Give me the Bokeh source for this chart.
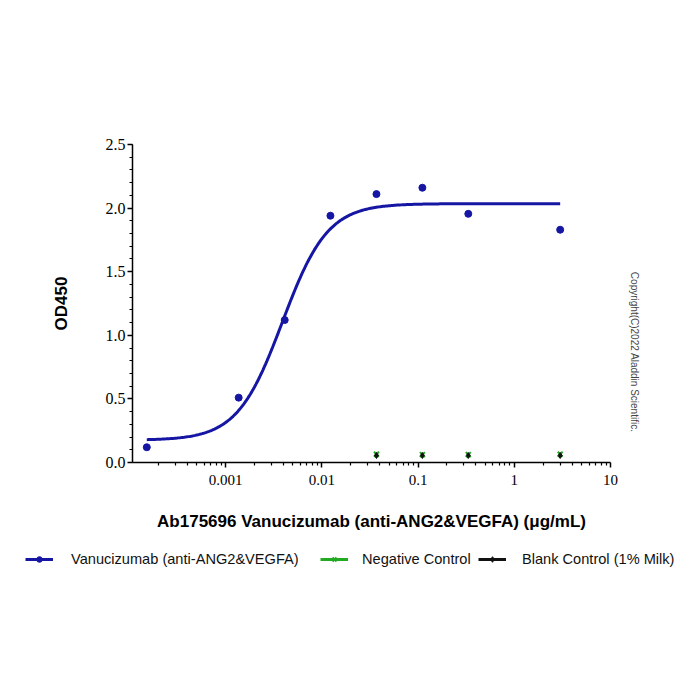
import numpy as np
from bokeh.plotting import figure
from bokeh.layouts import column
from bokeh.models import Range1d, FixedTicker, Legend, LegendItem, Title
from bokeh.embed import file_html
from bokeh.resources import INLINE

# ---- data ----
conc = [0.000152, 0.00137, 0.00412, 0.0123, 0.037, 0.111, 0.333, 3.0]
od_vanu = [0.12, 0.51, 1.12, 1.94, 2.11, 2.16, 1.955, 1.83]

ctrl_conc = [0.037, 0.111, 0.333, 3.0]
od_negative = [0.065, 0.062, 0.062, 0.065]
od_blank = [0.055, 0.055, 0.055, 0.055]

# 4-parameter logistic fit (as drawn in the reference)
fit_bottom = 0.175
fit_top = 2.035
fit_ec50 = 0.0039
fit_hill = 1.85

major_ticks = [0.001, 0.01, 0.1, 1, 10]
major_labels = ["0.001", "0.01", "0.1", "1", "10"]

series_names = ["Vanucizumab (anti-ANG2&VEGFA)", "Negative Control", "Blank Control (1% Milk)"]

BLUE = "#1616a4"
GREEN = "#22aa22"
BLACK = "#111111"

p = figure(width=700, height=540, x_axis_type="log",
           x_range=Range1d(1.08e-4, 10), y_range=Range1d(0, 2.5),
           output_backend="svg", toolbar_location=None,
           min_border_left=132, min_border_right=90,
           min_border_top=144, min_border_bottom=78)
p.frame_align = False
p.outline_line_color = None
p.xgrid.visible = False
p.ygrid.visible = False
p.background_fill_color = "white"
p.border_fill_color = "white"

# fitted curve
xs = np.logspace(np.log10(conc[0]), np.log10(conc[-1]), 300)
ys = fit_bottom + (fit_top - fit_bottom) / (1 + (fit_ec50 / xs) ** fit_hill)
p.line(xs, ys, line_color=BLUE, line_width=3)
p.scatter(conc, od_vanu, marker="circle", size=7, fill_color=BLUE, line_color=BLUE)
p.scatter(ctrl_conc, od_negative, marker="x", size=7, line_color=GREEN, line_width=2)
p.scatter(ctrl_conc, od_blank, marker="diamond", size=6, fill_color=BLACK, line_color=BLACK)

# axes
xa = p.xaxis[0]
xa.ticker = FixedTicker(ticks=major_ticks,
                        minor_ticks=[k * 10.0 ** e for e in range(-4, 1) for k in range(2, 10)])
xa.major_label_overrides = {t: l for t, l in zip(major_ticks, major_labels)}
xa.axis_label = "Ab175696 Vanucizumab (anti-ANG2&VEGFA) (μg/mL)"
ya = p.yaxis[0]
ya.ticker = FixedTicker(ticks=[0, 0.5, 1.0, 1.5, 2.0, 2.5],
                        minor_ticks=[i / 10 for i in range(0, 26)])
ya.major_label_overrides = {0: "0.0", 0.5: "0.5", 1.0: "1.0", 1.5: "1.5", 2.0: "2.0", 2.5: "2.5"}
ya.axis_label = "OD450"

for ax in (xa, ya):
    ax.axis_line_color = "black"
    ax.axis_line_width = 1.5
    ax.major_tick_line_color = "black"
    ax.minor_tick_line_color = "black"
    ax.major_tick_line_width = 1.5
    ax.minor_tick_line_width = 1.2
    ax.major_tick_in = 0
    ax.major_tick_out = 5
    ax.minor_tick_in = 0
    ax.minor_tick_out = 3
    ax.major_label_text_font = "Liberation Serif"
    ax.major_label_text_color = "black"
    ax.axis_label_text_font = "Liberation Sans"
    ax.axis_label_text_font_style = "bold"
    ax.axis_label_text_font_size = "17px"
    ax.axis_label_text_color = "black"

xa.major_label_text_font_size = "15px"
xa.major_label_standoff = 7
xa.axis_label_standoff = 24
ya.major_label_text_font_size = "16px"
ya.major_label_standoff = 2
ya.axis_label_standoff = 32

copy = Title(text="Copyright(C)2022 Aladdin Scientific.", align="right", offset=30,
             standoff=36, text_font="Liberation Sans", text_font_size="10px",
             text_font_style="normal", text_color="#444444")
p.add_layout(copy, "right")

# legend panel (separate figure so nothing is clipped)
lg = figure(width=700, height=160, x_range=Range1d(0, 1), y_range=Range1d(0, 1),
            x_axis_location=None, y_axis_location=None,
            output_backend="svg", toolbar_location=None,
            min_border_left=0, min_border_right=0, min_border_top=0, min_border_bottom=0)
lg.frame_align = False
lg.grid.visible = False
lg.outline_line_color = None
lg.background_fill_color = "white"
lg.border_fill_color = "white"

# legend-only renderers, placed outside the visible range
off = [-5, -4]
lg_b_l = lg.line(off, off, line_color=BLUE, line_width=3)
lg_b_m = lg.scatter(off, off, marker="circle", size=5, fill_color=BLUE, line_color=BLUE)
lg_g_l = lg.line(off, off, line_color=GREEN, line_width=3)
lg_g_m = lg.scatter(off, off, marker="x", size=6, line_color=GREEN, line_width=2)
lg_k_l = lg.line(off, off, line_color=BLACK, line_width=3)
lg_k_m = lg.scatter(off, off, marker="diamond", size=6, fill_color=BLACK, line_color=BLACK)

entries = [
    (series_names[0], [lg_b_l, lg_b_m], 25, 18),
    (series_names[1], [lg_g_l, lg_g_m], 320, 14),
    (series_names[2], [lg_k_l, lg_k_m], 478, 16),
]
for name, rends, x0, standoff in entries:
    legend = Legend(items=[LegendItem(label=name, renderers=rends)],
                    orientation="horizontal", location=(x0, 133))
    legend.label_text_font = "Liberation Sans"
    legend.label_text_font_size = "14.6px"
    legend.label_text_color = BLACK
    legend.glyph_width = 28
    legend.glyph_height = 14
    legend.label_standoff = standoff
    legend.padding = 0
    legend.margin = 0
    legend.border_line_color = None
    legend.background_fill_alpha = 0
    lg.add_layout(legend, "center")

layout = column(p, lg, spacing=0)
open("out.html", "w").write(file_html(layout, INLINE))
